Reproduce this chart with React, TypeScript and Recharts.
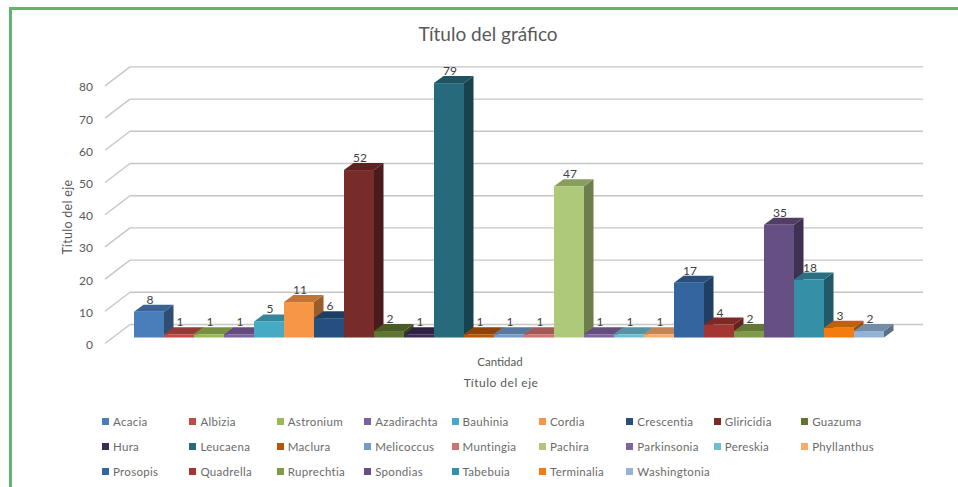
import { Bar, BarChart, CartesianGrid, LabelList, Legend, XAxis, YAxis } from "recharts";

const speciesNames = [
  "Acacia", "Albizia", "Astronium", "Azadirachta", "Bauhinia", "Cordia", "Crescentia", "Gliricidia", "Guazuma",
  "Hura", "Leucaena", "Maclura", "Melicoccus", "Muntingia", "Pachira", "Parkinsonia", "Pereskia", "Phyllanthus",
  "Prosopis", "Quadrella", "Ruprechtia", "Spondias", "Tabebuia", "Terminalia", "Washingtonia",
];
const speciesCounts = [8, 1, 1, 1, 5, 11, 6, 52, 2, 1, 79, 1, 1, 1, 47, 1, 1, 1, 17, 4, 2, 35, 18, 3, 2];
const speciesColors = [
  "#4a7ebb", "#be4b48", "#98b954", "#7d60a0", "#46aac5", "#f79646", "#254f7f", "#772c2a", "#5f7530",
  "#3b2a56", "#276a7c", "#b65708", "#729aca", "#cd7371", "#afc97a", "#8064a2", "#6fbdd1", "#f9ab6b",
  "#34659f", "#a33532", "#7f9a48", "#664f82", "#358fa6", "#f47c0f", "#95b3d7",
];
const yTicks = [0, 10, 20, 30, 40, 50, 60, 70, 80];

const chartRows = [
  { name: "Cantidad", ...Object.fromEntries(speciesNames.map((s, i) => [s, speciesCounts[i]])) },
];

const FONT = "Lato, Carlito, sans-serif";
const TEXT = "#595959";
const DEPTH_X = 9.5;
const DEPTH_Y = 7;

// darken a hex colour for the shaded faces of the 3D columns
function shade(hex: string, k: number) {
  const n = parseInt(hex.slice(1), 16);
  const c = [(n >> 16) & 255, (n >> 8) & 255, n & 255].map((v) => Math.round(v * k));
  return `rgb(${c[0]},${c[1]},${c[2]})`;
}

function Column3D(props: any) {
  const { x, y, width, height, fill } = props;
  const r = x + width;
  const b = y + height;
  return (
    <g>
      <polygon
        points={`${r},${y} ${r + DEPTH_X},${y - DEPTH_Y} ${r + DEPTH_X},${b - DEPTH_Y} ${r},${b}`}
        fill={shade(fill, 0.62)}
      />
      <polygon
        points={`${x},${y} ${x + DEPTH_X},${y - DEPTH_Y} ${r + DEPTH_X},${y - DEPTH_Y} ${r},${y}`}
        fill={shade(fill, 0.78)}
      />
      <rect x={x} y={y} width={width} height={height} fill={fill} />
    </g>
  );
}

// back wall line plus the diagonal running to the front of the chart
function WallLine(props: any) {
  const y = props.y1;
  return (
    <g stroke="#c6c6c6" strokeWidth={1.4} fill="none">
      <line x1={130} y1={y - 13} x2={923} y2={y - 13} />
      <line x1={105} y1={y + 6} x2={130} y2={y - 13} />
    </g>
  );
}

function ValueTick(props: any) {
  const { x, y, payload } = props;
  return (
    <text x={x} y={y + 7} textAnchor="end" dominantBaseline="central" fontSize={12} fontFamily={FONT} fill={TEXT}>
      {payload.value}
    </text>
  );
}

function SpeciesLegend({ payload }: any) {
  return (
    <div style={{ display: "grid", gridTemplateColumns: "repeat(9, 87.4px)", gridAutoRows: "24.7px" }}>
      {(payload ?? []).map((item: any) => (
        <div key={item.value} style={{ display: "flex", alignItems: "center", whiteSpace: "nowrap" }}>
          <span style={{ width: 7, height: 7, background: item.color, marginRight: 4 }} />
          <span style={{ fontFamily: FONT, fontSize: 11.5, letterSpacing: 0.3, color: "#6a6a6a" }}>{item.value}</span>
        </div>
      ))}
    </div>
  );
}

export default function App() {
  return (
    <div style={{ position: "absolute", left: 0, top: 0, width: 958, height: 487, background: "#fff", overflow: "hidden" }}>
      <div
        style={{
          position: "absolute",
          left: 9,
          top: 7,
          width: 960,
          height: 500,
          border: "3px solid #62b46c",
          boxSizing: "border-box",
        }}
      />
      <BarChart
        width={958}
        height={487}
        data={chartRows}
        margin={{ top: 79.9, right: 74, bottom: 43.5, left: 94 }}
        barCategoryGap={0}
        barGap={0}
        style={{ position: "absolute", left: 0, top: 0 }}
      >
        <CartesianGrid vertical={false} horizontal={(p: any) => <WallLine key={p.key ?? p.y1} {...p} />} />
        <XAxis
          dataKey="name"
          axisLine={false}
          tickLine={false}
          tickMargin={14}
          tick={{ fontSize: 11.5, fontFamily: FONT, fill: TEXT, dx: -9 }}
        />
        <YAxis
          domain={[0, 80]}
          ticks={yTicks}
          interval={0}
          axisLine={false}
          tickLine={false}
          width={40}
          tickMargin={35}
          tick={<ValueTick />}
        />
        <Legend
          content={<SpeciesLegend />}
          wrapperStyle={{ position: "absolute", left: 102, top: 409.5, width: 800, height: 76 }}
        />
        {speciesNames.map((s, i) => (
          <Bar key={s} dataKey={s} fill={speciesColors[i]} shape={<Column3D />} isAnimationActive={false}>
            <LabelList
              dataKey={s}
              position="top"
              offset={8}
              dx={1}
              fontSize={12}
              fontFamily={FONT}
              fill="#404040"
            />
          </Bar>
        ))}
        <text x={488} y={41} textAnchor="middle" fontSize={19} fontFamily={FONT} fill={TEXT}>
          Título del gráfico
        </text>
        <text x={501} y={387} textAnchor="middle" fontSize={12} letterSpacing={0.5} fontFamily={FONT} fill={TEXT}>
          Título del eje
        </text>
        <text
          x={72}
          y={217}
          textAnchor="middle"
          fontSize={12.5}
          letterSpacing={0.3}
          fontFamily={FONT}
          fill={TEXT}
          transform="rotate(-90 72 217)"
        >
          Título del eje
        </text>
      </BarChart>
    </div>
  );
}
